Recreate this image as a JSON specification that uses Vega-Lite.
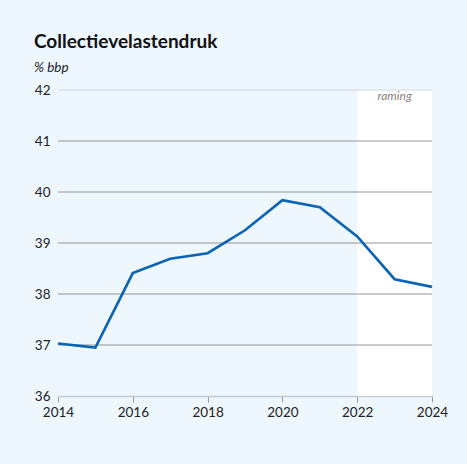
{
  "$schema": "https://vega.github.io/schema/vega-lite/v6.json",
  "autosize": "none",
  "width": 374,
  "height": 306,
  "padding": {"left": 58, "top": 90, "right": 35, "bottom": 68},
  "background": "#eef7fe",
  "title": {
    "text": "Collectievelastendruk",
    "subtitle": "% bbp",
    "anchor": "start",
    "frame": "group",
    "dx": -24,
    "offset": 9,
    "font": "Lato",
    "fontSize": 19,
    "fontWeight": "bold",
    "color": "#111111",
    "subtitleFont": "Lato",
    "subtitleFontSize": 13.5,
    "subtitleFontStyle": "italic",
    "subtitleColor": "#222222",
    "subtitlePadding": 9
  },
  "config": {
    "view": {"stroke": null},
    "axis": {"labelFont": "Lato", "labelFontSize": 13.5, "labelColor": "#222222"}
  },
  "datasets": {
    "series": [
      {"year": 2014, "value": 37.03},
      {"year": 2015, "value": 36.95},
      {"year": 2016, "value": 38.41},
      {"year": 2017, "value": 38.69},
      {"year": 2018, "value": 38.8},
      {"year": 2019, "value": 39.25},
      {"year": 2020, "value": 39.84},
      {"year": 2021, "value": 39.7},
      {"year": 2022, "value": 39.13},
      {"year": 2023, "value": 38.29},
      {"year": 2024, "value": 38.14}
    ],
    "forecast": [{"start": 2022, "end": 2024, "mid": 2023, "top": 42, "label": "raming"}],
    "grid": [{"v": 37}, {"v": 38}, {"v": 39}, {"v": 40}, {"v": 41}, {"v": 42}]
  },
  "layer": [
    {
      "data": {"name": "forecast"},
      "mark": {"type": "rect", "fill": "#ffffff"},
      "encoding": {
        "x": {"field": "start", "type": "quantitative"},
        "x2": {"field": "end"}
      }
    },
    {
      "data": {"name": "grid"},
      "mark": {"type": "rule", "strokeWidth": 1},
      "encoding": {
        "y": {"field": "v", "type": "quantitative"},
        "color": {
          "condition": {"test": "datum.v === 42", "value": "#d3d8dd"},
          "value": "#959595"
        }
      }
    },
    {
      "data": {"name": "series"},
      "mark": {"type": "line", "color": "#0b63b3", "strokeWidth": 2.6},
      "encoding": {
        "x": {
          "field": "year",
          "type": "quantitative",
          "scale": {"domain": [2014, 2024], "nice": false, "zero": false},
          "axis": {
            "title": null,
            "values": [2014, 2016, 2018, 2020, 2022, 2024],
            "format": "d",
            "grid": false,
            "domainColor": "#c6ccd2",
            "domainWidth": 1.5,
            "tickColor": "#9a9a9a",
            "tickSize": 6,
            "labelPadding": 3,
            "labelFlush": false
          }
        },
        "y": {
          "field": "value",
          "type": "quantitative",
          "scale": {"domain": [36, 42], "nice": false, "zero": false},
          "axis": {
            "title": null,
            "values": [36, 37, 38, 39, 40, 41, 42],
            "grid": false,
            "domain": false,
            "ticks": false,
            "labelPadding": 8
          }
        }
      }
    },
    {
      "data": {"name": "forecast"},
      "mark": {"type": "text", "font": "Lato", "fontSize": 12, "fontStyle": "italic", "color": "#8c817c", "baseline": "top", "dy": 1},
      "encoding": {
        "x": {"field": "mid", "type": "quantitative"},
        "y": {"field": "top", "type": "quantitative"},
        "text": {"field": "label"}
      }
    }
  ]
}
